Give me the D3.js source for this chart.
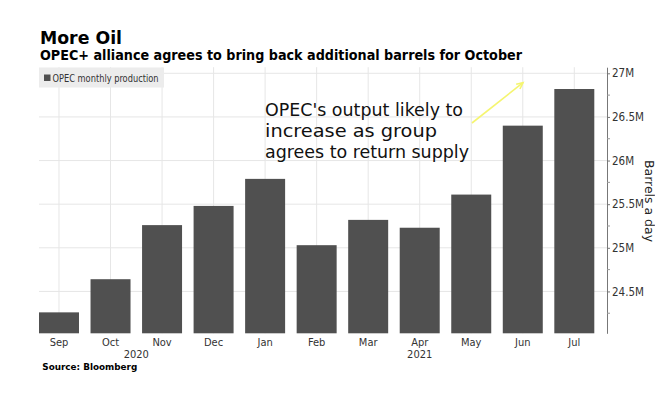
<!DOCTYPE html>
<html>
<head>
<meta charset="utf-8">
<script src="https://cdn.jsdelivr.net/npm/d3@7"></script>
<style>
  html, body { margin: 0; padding: 0; background: #fff; }
  svg { display: block; }
  text { font-family: "DejaVu Sans Condensed", "DejaVu Sans", sans-serif; font-stretch: condensed; }
</style>
</head>
<body>
<svg id="chart" width="655" height="393"></svg>
<script>
// ---- data ----
const months = ["Sep", "Oct", "Nov", "Dec", "Jan", "Feb", "Mar", "Apr", "May", "Jun", "Jul"];
const years = ["2020", "2020", "2020", "2020", "2021", "2021", "2021", "2021", "2021", "2021", "2021"];
const production = [24.26, 24.64, 25.26, 25.48, 25.79, 25.03, 25.32, 25.23, 25.61, 26.40, 26.82];
const yTicks = [24.5, 25, 25.5, 26, 26.5, 27];
const yMinorTicks = [24.25, 24.75, 25.25, 25.75, 26.25, 26.75];
const seriesName = "OPEC monthly production";
const titleText = "More Oil";
const subtitleText = "OPEC+ alliance agrees to bring back additional barrels for October";
const annotationLines = ["OPEC's output likely to", "increase as group", "agrees to return supply"];
const yAxisTitle = "Barrels a day";
const sourceText = "Source: Bloomberg";

// ---- layout ----
const svg = d3.select("#chart");
const plotLeft = 39, plotRight = 607, plotTop = 67.2, plotBottom = 333.3;

const x = d3.scaleBand().domain(months).range([39, 594.3]).paddingInner(0.224).paddingOuter(0);
const y = d3.scaleLinear().domain([24.02, 27.07]).range([plotBottom, plotTop]);

function fit(sel, w) {
  sel.attr("textLength", w).attr("lengthAdjust", "spacingAndGlyphs");
}

// gridlines
const grid = svg.append("g");
grid.selectAll("line.h").data(yTicks).join("line")
  .attr("x1", plotLeft).attr("x2", plotRight)
  .attr("y1", d => y(d)).attr("y2", d => y(d))
  .attr("stroke", "#e6e6e6").attr("stroke-width", 1);
grid.selectAll("line.v").data(months).join("line")
  .attr("x1", d => x(d) + x.bandwidth() / 2).attr("x2", d => x(d) + x.bandwidth() / 2)
  .attr("y1", plotTop).attr("y2", plotBottom)
  .attr("stroke", "#e6e6e6").attr("stroke-width", 1);

// legend
const lg = svg.append("g");
lg.append("rect").attr("x", 39).attr("y", 67.5).attr("width", 125).attr("height", 20).attr("fill", "#ececec");
lg.append("rect").attr("x", 44).attr("y", 74.5).attr("width", 6.5).attr("height", 6.5).attr("fill", "#505050");
lg.append("text").attr("x", 52.5).attr("y", 81.5).attr("font-size", 10.5).attr("fill", "#333")
  .text(seriesName).call(fit, 106);

// bars
svg.append("g").selectAll("rect").data(production).join("rect")
  .attr("x", (d, i) => x(months[i]))
  .attr("y", d => y(d))
  .attr("width", x.bandwidth())
  .attr("height", d => plotBottom - y(d))
  .attr("fill", "#505050");

// y axis
const yAxis = svg.append("g").attr("transform", `translate(${plotRight},0)`)
  .call(d3.axisRight(y).tickValues(yTicks).tickSize(3).tickSizeOuter(0).tickPadding(2)
    .tickFormat(d => d + "M"));
yAxis.select(".domain").attr("stroke", "#777");
yAxis.selectAll(".tick line").attr("stroke", "#777");
yAxis.selectAll(".tick text").attr("font-size", 11.5).attr("fill", "#333")
  .attr("font-family", "\"DejaVu Sans Condensed\", \"DejaVu Sans\", sans-serif");
yAxis.selectAll("line.minor").data(yMinorTicks).join("line").attr("class", "minor")
  .attr("x1", 0).attr("x2", 3).attr("y1", d => y(d)).attr("y2", d => y(d))
  .attr("stroke", "#999");

// y axis title
svg.append("text").attr("transform", `translate(645,201) rotate(90)`)
  .attr("text-anchor", "middle").attr("font-size", 12).attr("fill", "#222")
  .text(yAxisTitle).call(fit, 82);

// x labels
svg.append("g").selectAll("text").data(months).join("text")
  .attr("x", d => x(d) + x.bandwidth() / 2).attr("y", 345.5)
  .attr("text-anchor", "middle").attr("font-size", 11).attr("fill", "#333")
  .text(d => d);

// year labels centered over their months
const yearGroups = d3.groups(months.map((m, i) => ({ m, yr: years[i] })), d => d.yr);
svg.append("g").selectAll("text").data(yearGroups).join("text")
  .attr("x", d => d3.mean(d[1], e => x(e.m) + x.bandwidth() / 2))
  .attr("y", 358).attr("text-anchor", "middle").attr("font-size", 11).attr("fill", "#333")
  .text(d => d[0]);

// titles
svg.append("text").attr("x", 40).attr("y", 44).attr("font-size", 18).attr("font-weight", "bold")
  .attr("fill", "#000").text(titleText).call(fit, 82);
svg.append("text").attr("x", 40).attr("y", 60.3).attr("font-size", 13.5).attr("font-weight", "bold")
  .attr("fill", "#000").text(subtitleText).call(fit, 482);

// source
svg.append("text").attr("x", 42.3).attr("y", 370).attr("font-size", 9.5).attr("font-weight", "bold")
  .attr("fill", "#000").text(sourceText).call(fit, 95);

// annotation
const ann = svg.append("g");
const annWidths = [198, 172, 204];
ann.selectAll("text").data(annotationLines).join("text")
  .attr("x", 265).attr("y", (d, i) => 116 + i * 21.2)
  .attr("font-size", 18.5).attr("fill", "#111")
  .text(d => d)
  .each(function (d, i) { d3.select(this).call(fit, annWidths[i]); });

// arrow
const ax0 = 472, ay0 = 123, ax1 = 523, ay1 = 82.7;
const ang = Math.atan2(ay1 - ay0, ax1 - ax0);
const hl = 7;
ann.append("line").attr("x1", ax0).attr("y1", ay0).attr("x2", ax1).attr("y2", ay1)
  .attr("stroke", "#f5f570").attr("stroke-width", 1.6);
ann.append("path")
  .attr("d", `M${ax1 - hl * Math.cos(ang - 0.45)},${ay1 - hl * Math.sin(ang - 0.45)}L${ax1},${ay1}L${ax1 - hl * Math.cos(ang + 0.45)},${ay1 - hl * Math.sin(ang + 0.45)}`)
  .attr("fill", "none").attr("stroke", "#f5f570").attr("stroke-width", 1.6);
</script>
</body>
</html>
